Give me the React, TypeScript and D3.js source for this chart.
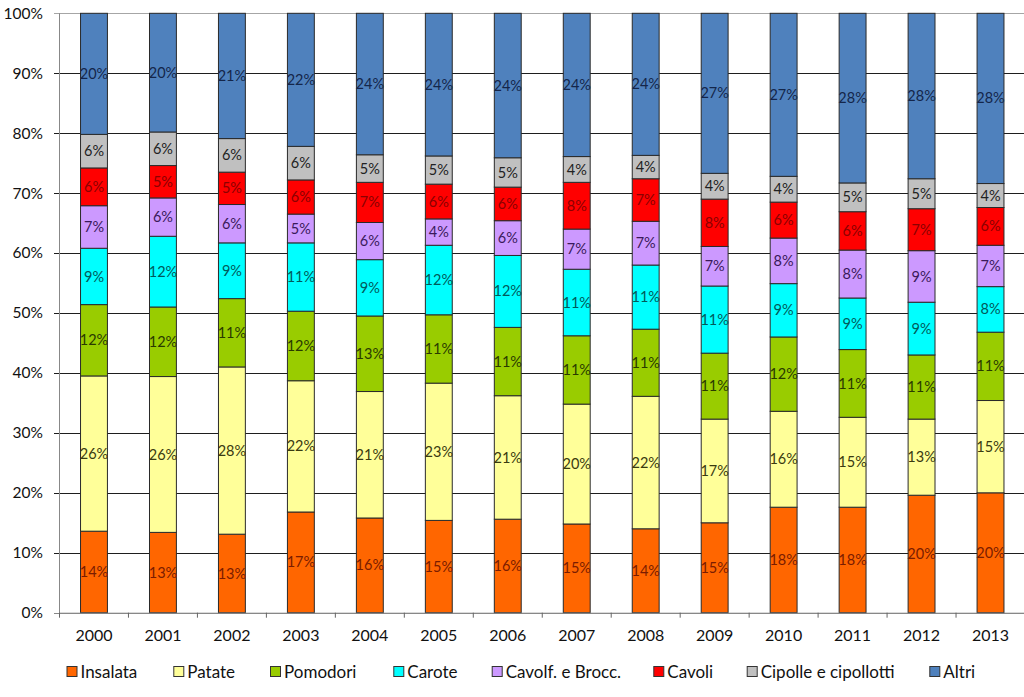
import React from "react";
import * as d3 from "d3";

const years = ["2000","2001","2002","2003","2004","2005","2006","2007","2008","2009","2010","2011","2012","2013"];
const seriesNames = ["Insalata","Patate","Pomodori","Carote","Cavolf. e Brocc.","Cavoli","Cipolle e cipollotti","Altri"];

const insalata = [13.6,13.4,13.1,16.8,15.8,15.4,15.6,14.8,14.0,15.0,17.6,17.6,19.6,20.0];
const patate   = [25.9,26.0,27.9,21.9,21.1,22.9,20.6,20.0,22.1,17.3,16.0,15.0,12.7,15.4];
const pomodori = [11.9,11.6,11.4,11.6,12.6,11.4,11.4,11.4,11.2,11.0,12.4,11.3,10.7,11.4];
const carote   = [9.4,11.8,9.3,11.4,9.4,11.6,12.0,11.1,10.7,11.2,8.9,8.6,8.8,7.6];
const cavolf   = [7.1,6.4,6.4,4.8,6.2,4.4,5.8,6.7,7.3,6.6,7.6,8.0,8.6,6.9];
const cavoli   = [6.3,5.4,5.4,5.7,6.7,5.8,5.6,7.8,7.1,7.9,6.0,6.4,7.0,6.3];
const cipolle  = [5.6,5.6,5.6,5.6,4.6,4.7,4.9,4.3,3.9,4.3,4.3,4.8,5.0,4.0];
const altri    = [20.2,19.8,20.9,22.2,23.6,23.8,24.1,23.9,23.7,26.7,27.2,28.3,27.6,28.4];

const yTicks = [0,10,20,30,40,50,60,70,80,90,100];

const fills = ["#FF6600","#FFFF99","#99CC00","#00FFFF","#CC99FF","#FF0000","#C0C0C0","#4F81BD"];
const labelColors = ["#7a1c00","#3a3a10","#2a3a00","#005a5a","#3a1a5a","#8a0000","#222222","#14264a"];

const seriesValues = [insalata,patate,pomodori,carote,cavolf,cavoli,cipolle,altri];

export default function App() {
  React.useEffect(() => { document.body.style.margin = "0"; }, []);
  const W = 1024, H = 697;
  const left = 59.5, right = 1025, top = 13.3, bottom = 612.7;
  const font = "Lato, 'Open Sans', sans-serif";

  const rows = years.map((y, i) => {
    const r: any = { year: y };
    seriesNames.forEach((s, k) => { r[s] = seriesValues[k][i]; });
    return r;
  });
  const stack = d3.stack<any>().keys(seriesNames).offset(d3.stackOffsetExpand);
  const stacked = stack(rows);

  const x = d3.scaleBand().domain(years).range([left, right]).paddingInner(0.61).paddingOuter(0.305);
  const xb = d3.scaleBand().domain(years).range([left, right]);
  const y = d3.scaleLinear().domain([0, 1]).range([bottom, top]);

  const legendX = [66.5, 173.3, 270, 393.3, 491.7, 653.3, 746.7, 929.3];

  return (
    <svg width={W} height={H} style={{ position: "absolute", left: 0, top: 0, background: "#fff" }} fontFamily={font}>
      {yTicks.map((t) => (
        <g key={t}>
          <line x1={54} x2={right} y1={Math.round(y(t / 100)) + 0.5} y2={Math.round(y(t / 100)) + 0.5}
            stroke={t === 100 ? "#a6a6a6" : t === 0 ? "#888" : "#1e1e1e"} strokeWidth={1} />
          <text x={43} y={y(t / 100)} dy="0.35em" textAnchor="end" fontSize={15.5} fill="#111">{t}%</text>
        </g>
      ))}
      <line x1={left} x2={left} y1={top} y2={bottom + 0.5} stroke="#888" />
      {stacked.map((layer, k) => (
        <g key={k}>
          {layer.map((d, i) => {
            const x0 = x(years[i])!;
            const y0 = y(d[1]), y1 = y(d[0]);
            const v = (d[1] - d[0]) * 100;
            return (
              <g key={i}>
                <rect x={x0} y={y0} width={x.bandwidth()} height={y1 - y0} fill={fills[k]} stroke="#2a2a2a" strokeWidth={1} />
                <text x={x0 + x.bandwidth() / 2} y={(y0 + y1) / 2} dy="0.35em" textAnchor="middle" fontSize={14.5} fill={labelColors[k]}>
                  {Math.round(v)}%
                </text>
              </g>
            );
          })}
        </g>
      ))}
      <line x1={left} x2={right} y1={bottom + 0.5} y2={bottom + 0.5} stroke="#888" />
      {years.map((yr, i) => (
        <g key={yr}>
          <line x1={xb(yr)! + xb.bandwidth()} x2={xb(yr)! + xb.bandwidth()} y1={bottom} y2={bottom + 5} stroke="#666" />
          {i === 0 && <line x1={left} x2={left} y1={bottom} y2={bottom + 5} stroke="#666" />}
          <text x={xb(yr)! + xb.bandwidth() / 2} y={635} dy="0.35em" textAnchor="middle" fontSize={16} fill="#111">{yr}</text>
        </g>
      ))}
      {seriesNames.map((s, k) => (
        <g key={s}>
          <rect x={legendX[k] + 0.5} y={666.5} width={10} height={10} fill={fills[k]} stroke="#333" />
          <text x={legendX[k] + 14} y={671.7} dy="0.35em" fontSize={17} fill="#111">{s}</text>
        </g>
      ))}
    </svg>
  );
}
